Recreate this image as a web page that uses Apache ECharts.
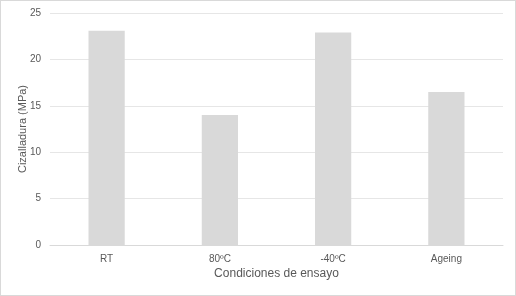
<!DOCTYPE html>
<html>
<head>
<meta charset="utf-8">
<script src="https://cdn.jsdelivr.net/npm/echarts@6/dist/echarts.min.js"></script>
<style>
html,body{margin:0;padding:0;background:#fff;}
#c{width:514px;height:294px;border:1px solid #d9d9d9;}
</style>
</head>
<body>
<div id="c"></div>
<script>
const categories = ["RT", "80ºC", "-40ºC", "Ageing"];
const values = [23.1, 14.0, 22.9, 16.5];
const yTicks = [0, 5, 10, 15, 20, 25];

const chart = echarts.init(document.getElementById('c'));
chart.setOption({
  animation: false,
  grid: {left: 49, right: 12, top: 12, bottom: 50},
  xAxis: {
    type: 'category',
    data: categories,
    name: 'Condiciones de ensayo',
    nameLocation: 'middle',
    nameGap: 23,
    nameMoveOverlap: false,
    nameTextStyle: {color: '#595959', fontFamily: 'Liberation Sans', fontSize: 12},
    axisLine: {lineStyle: {color: '#d9d9d9'}},
    axisTick: {show: false},
    axisLabel: {color: '#595959', fontFamily: 'Liberation Sans', fontSize: 10, margin: 9}
  },
  yAxis: {
    type: 'value',
    min: yTicks[0],
    max: yTicks[yTicks.length - 1],
    interval: 5,
    name: 'Cizalladura (MPa)',
    nameLocation: 'middle',
    nameGap: 22,
    nameMoveOverlap: false,
    nameTextStyle: {color: '#595959', fontFamily: 'Liberation Sans', fontSize: 11},
    axisLine: {show: false},
    axisTick: {show: false},
    axisLabel: {color: '#595959', fontFamily: 'Liberation Sans', fontSize: 10, margin: 9},
    splitLine: {lineStyle: {color: '#e6e6e6'}}
  },
  series: [{
    type: 'bar',
    data: values,
    barWidth: '32%',
    itemStyle: {color: '#d9d9d9'}
  }]
});
</script>
</body>
</html>
